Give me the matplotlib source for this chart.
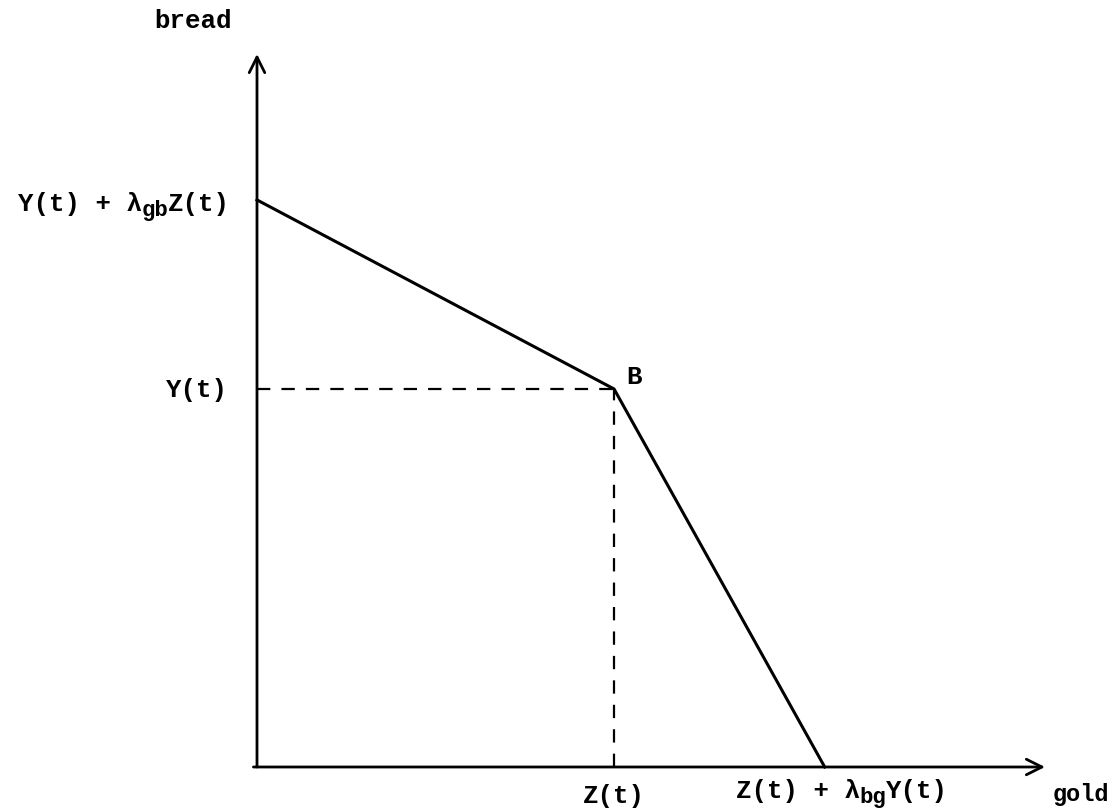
import matplotlib
matplotlib.use("Agg")
import matplotlib.pyplot as plt

plt.rcParams['font.family'] = ['Liberation Mono', 'DejaVu Sans Mono']
plt.rcParams['font.weight'] = 'bold'

# Frontier data (gold on x, bread on y)
gold_vals = [0.0, 1.0, 1.59]
bread_vals = [1.50, 1.0, 0.0]
z_t = 1.0
y_t = 1.0
x_max = 2.207
y_max = 1.886

fs = 18.5
fs_sub = 16
PX = 0.72  # points per pixel at dpi 100


def piece_label(ax, x, y, parts, ha, dx_px, dy_px):
    # parts: (text, fontsize, extra drop in px) - monospace so width = 0.6 em per char
    total = sum(len(t) * 0.6 * s for t, s, d in parts)
    if ha == 'right':
        start = dx_px * PX - total
    elif ha == 'center':
        start = dx_px * PX - total / 2
    else:
        start = dx_px * PX
    for t, s, d in parts:
        ax.annotate(t, xy=(x, y), xytext=(start, (dy_px - d) * PX), textcoords='offset points',
                    ha='left', va='baseline', fontsize=s, annotation_clip=False)
        start += len(t) * 0.6 * s


fig = plt.figure(figsize=(11.2, 8.12), dpi=100)
ax = fig.add_axes([257 / 1120, 44 / 812, 788 / 1120, 713 / 812])
ax.set_xlim(0, x_max)
ax.set_ylim(0, y_max)
ax.axis('off')

# axes with open arrowheads
arrow = dict(arrowstyle='->', lw=2, color='black', mutation_scale=28, shrinkA=0, shrinkB=0)
ax.annotate('', xy=(x_max, 0), xytext=(-0.01, 0), arrowprops=arrow, annotation_clip=False)
ax.annotate('', xy=(0, y_max), xytext=(0, 0), arrowprops=arrow, annotation_clip=False)

# kinked budget line
ax.plot(gold_vals, bread_vals, color='black', lw=2.2, solid_joinstyle='miter', clip_on=False)

# dashed guides to point B
ax.plot([0, z_t], [y_t, y_t], color='black', lw=1.6, dashes=(6, 5), clip_on=False)
ax.plot([z_t, z_t], [0, y_t], color='black', lw=1.6, dashes=(6, 5), clip_on=False)

ax.text(-0.07, y_max + 0.09, 'bread', ha='right', va='center', fontsize=fs)
ax.text(x_max + 0.02, -0.07, 'gold', ha='left', va='center', fontsize=17)
ax.text(-0.08, y_t, 'Y(t)', ha='right', va='center', fontsize=fs)
ax.text(z_t + 0.035, y_t + 0.035, 'B', ha='left', va='center', fontsize=fs)
ax.text(z_t, -0.075, 'Z(t)', ha='center', va='center', fontsize=fs)

piece_label(ax, 0, bread_vals[0],
            [('Y(t) + λ', fs, 0), ('gb', fs_sub, 5), ('Z(t)', fs, 0)],
            'right', -27, -10)
piece_label(ax, gold_vals[2], 0,
            [('Z(t) + λ', fs, 0), ('bg', fs_sub, 5), ('Y(t)', fs, 0)],
            'center', 17, -30)

fig.savefig('out.png', dpi=100, facecolor='white')
